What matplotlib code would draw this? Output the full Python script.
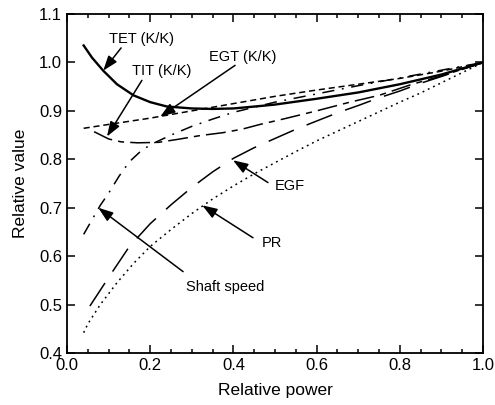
import matplotlib
matplotlib.use("Agg")
import matplotlib.pyplot as plt
from matplotlib.ticker import MultipleLocator

plt.rcParams['font.family'] = ['Liberation Sans', 'DejaVu Sans']

# --- data ---
tet_x = [0.04, 0.06, 0.087, 0.12, 0.16, 0.2, 0.24, 0.3, 0.35, 0.4, 0.464, 0.5, 0.6, 0.7, 0.8, 0.9, 1.0]
tet_y = [1.035, 1.01, 0.983, 0.955, 0.932, 0.918, 0.909, 0.905, 0.904, 0.905, 0.910, 0.913, 0.925, 0.938, 0.955, 0.975, 1.0]

egt_x = [0.04, 0.1, 0.2, 0.3, 0.4, 0.5, 0.6, 0.7, 0.8, 0.9, 1.0]
egt_y = [0.864, 0.872, 0.885, 0.900, 0.915, 0.930, 0.943, 0.955, 0.967, 0.982, 1.0]

tit_x = [0.065, 0.1, 0.13, 0.17, 0.22, 0.265, 0.32, 0.375, 0.42, 0.464, 0.524, 0.6, 0.68, 0.75, 0.83, 0.9, 1.0]
tit_y = [0.857, 0.842, 0.836, 0.834, 0.835, 0.841, 0.849, 0.855, 0.862, 0.872, 0.884, 0.900, 0.918, 0.932, 0.955, 0.972, 1.0]

shaft_x = [0.04, 0.06, 0.08, 0.1, 0.125, 0.15, 0.175, 0.2, 0.25, 0.3, 0.35, 0.4, 0.5, 0.6, 0.7, 0.8, 0.9, 1.0]
shaft_y = [0.645, 0.675, 0.705, 0.730, 0.765, 0.795, 0.815, 0.830, 0.850, 0.868, 0.883, 0.897, 0.918, 0.935, 0.952, 0.968, 0.984, 1.0]

egf_x = [0.055, 0.1, 0.15, 0.2, 0.25, 0.3, 0.35, 0.4, 0.45, 0.5, 0.55, 0.6, 0.65, 0.7, 0.75, 0.8, 0.85, 0.9, 1.0]
egf_y = [0.497, 0.556, 0.620, 0.667, 0.706, 0.742, 0.774, 0.802, 0.824, 0.843, 0.862, 0.879, 0.896, 0.911, 0.927, 0.941, 0.957, 0.971, 1.0]

pr_x = [0.04, 0.05, 0.08, 0.12, 0.16, 0.2, 0.25, 0.3, 0.35, 0.4, 0.45, 0.5, 0.55, 0.6, 0.65, 0.7, 0.75, 0.8, 0.85, 0.9, 0.95, 1.0]
pr_y = [0.442, 0.460, 0.500, 0.545, 0.585, 0.620, 0.655, 0.688, 0.718, 0.745, 0.770, 0.793, 0.816, 0.838, 0.858, 0.878, 0.898, 0.918, 0.937, 0.958, 0.979, 1.0]

labels = ["TET (K/K)", "EGT (K/K)", "TIT (K/K)", "EGF", "PR", "Shaft speed"]
label_pos = [(0.178, 1.048), (0.422, 1.012), (0.227, 0.983), (0.536, 0.744), (0.493, 0.628), (0.380, 0.537)]
arrow_tail = [(0.130, 1.030), (0.404, 0.994), (0.180, 0.963), (0.483, 0.752), (0.447, 0.638), (0.279, 0.568)]
arrow_head = [(0.087, 0.983), (0.224, 0.888), (0.096, 0.847), (0.399, 0.798), (0.325, 0.705), (0.075, 0.700)]

fig = plt.figure(figsize=(4.95, 4.05), dpi=100)
ax = fig.add_axes([0.1354, 0.1284, 0.8404, 0.8370])

ax.plot(tet_x, tet_y, color='black', lw=1.7, linestyle='-')
ax.plot(egt_x, egt_y, color='black', lw=1.1, linestyle=(0, (4, 2.5)))
ax.plot(tit_x, tit_y, color='black', lw=1.1, linestyle=(0, (13, 4, 4, 4)))
ax.plot(shaft_x, shaft_y, color='black', lw=1.1, linestyle=(0, (8, 5, 1.2, 5)))
ax.plot(egf_x, egf_y, color='black', lw=1.1, linestyle=(0, (18, 9)))
ax.plot(pr_x, pr_y, color='black', lw=1.1, linestyle=(0, (1.2, 2.6)))

for lab, lp, at, ah in zip(labels, label_pos, arrow_tail, arrow_head):
    ax.text(lp[0], lp[1], lab, fontsize=10.5, ha='center', va='center')
    ax.annotate('', xy=ah, xytext=at,
                arrowprops=dict(arrowstyle='-|>,head_length=0.9,head_width=0.32',
                                lw=1.1, color='black', shrinkA=0, shrinkB=0))

ax.set_xlim(0.0, 1.0)
ax.set_ylim(0.4, 1.1)
ax.xaxis.set_major_locator(MultipleLocator(0.2))
ax.xaxis.set_minor_locator(MultipleLocator(0.05))
ax.yaxis.set_major_locator(MultipleLocator(0.1))
ax.set_xticklabels([f"{v:.1f}" for v in ax.get_xticks()])
ax.set_yticklabels([f"{v:.1f}" for v in ax.get_yticks()])
ax.tick_params(which='both', direction='in', top=True, right=True, labelsize=12, width=1.1)
ax.tick_params(which='major', length=6)
ax.tick_params(which='minor', length=3)
for s in ax.spines.values():
    s.set_linewidth(1.3)

ax.set_xlabel("Relative power", fontsize=12.5, labelpad=7)
ax.set_ylabel("Relative value", fontsize=12.5, labelpad=8)

fig.savefig("out.png", dpi=100)
